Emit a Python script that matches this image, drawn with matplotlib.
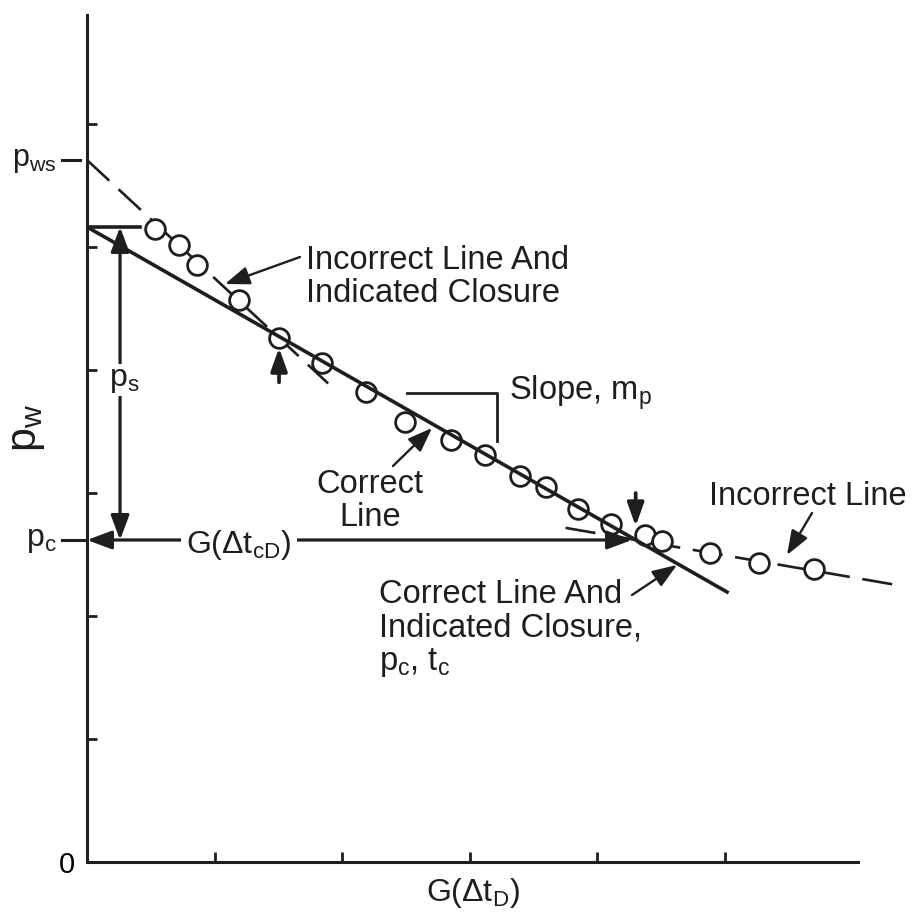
import matplotlib
matplotlib.use("Agg")
import matplotlib.pyplot as plt
import numpy as np

plt.rcParams['font.family'] = ['Liberation Sans', 'DejaVu Sans']
plt.rcParams['mathtext.fontset'] = 'custom'
plt.rcParams['mathtext.rm'] = 'Liberation Sans'
plt.rcParams['mathtext.it'] = 'Liberation Sans'
plt.rcParams['mathtext.default'] = 'regular'

INK = '#1e1e1e'

# ---- data (G(Δt_D) units, p_w units) ----
g_points = [0.53, 0.72, 0.86, 1.19, 1.505, 1.84, 2.19, 2.49, 2.85, 3.12,
            3.39, 3.60, 3.85, 4.11, 4.37, 4.51, 4.88, 5.27, 5.70]
p_points = [5.15, 5.02, 4.85, 4.57, 4.26, 4.06, 3.82, 3.58, 3.43, 3.31,
            3.14, 3.05, 2.87, 2.75, 2.66, 2.61, 2.51, 2.43, 2.38]

p_s_top = 5.163          # intercept of correct line
correct_slope = -0.5917
correct_x = [0.0, 5.016]

p_ws = 5.707             # intercept of early incorrect line
early_slope = -0.961
early_x = [0.0, 1.89]

p_c = 2.618
g_c = (p_s_top - p_c) / -correct_slope
late_slope = -0.179
late_x = [6.31, 3.75]    # drawn from right end so the dash pattern starts there

x_ticks = [1, 2, 3, 4, 5]
y_ticks = [0, 1, 2, 3, 4, 5, 6]
y_ticklabels = ['0', '', '', '', '', '', '']

fig = plt.figure(figsize=(9.13, 9.21), dpi=100)
ax = fig.add_axes([87/913, 59/921, 771/913, 847/921])
ax.set_xlim(0, 771/127.6)
ax.set_ylim(0, 847/123)

def X(px):
    return (px - 87) / 127.6

def Y(py):
    return (862 - py) / 123

for s in ['top', 'right']:
    ax.spines[s].set_visible(False)
for s in ['left', 'bottom']:
    ax.spines[s].set_linewidth(2.2)
    ax.spines[s].set_color(INK)

ax.set_xticks(x_ticks)
ax.set_xticklabels([])
ax.set_yticks(y_ticks)
ax.set_yticklabels(y_ticklabels, fontsize=21)
ax.tick_params(axis='both', direction='in', length=7, width=2, color=INK)
ax.tick_params(axis='y', pad=9)

dash = (0, (11.5, 4.8))
# incorrect lines (dashed)
xe = np.array(early_x)
ax.plot(xe, p_ws + early_slope * xe, color=INK, lw=1.9, linestyle=dash, zorder=1)
xl = np.array(late_x)
ax.plot(xl, p_c + late_slope * (xl - g_c), color=INK, lw=1.9, linestyle=dash,
        zorder=1, clip_on=False)

# data points
ax.plot(g_points, p_points, 'o', ms=14.2, mfc='white', mec=INK, mew=2.0, zorder=2)

# correct line
xc = np.array(correct_x)
ax.plot(xc, p_s_top + correct_slope * xc, color=INK, lw=2.6, zorder=3)

# top horizontal line for p_s
ax.plot([0, 0.415], [p_s_top, p_s_top], color=INK, lw=2.6, zorder=3)

def arrow(tail, head, style='-|>', lw=1.7, hl=0.75, hw=0.28, ms=20):
    ax.annotate('', xy=head, xytext=tail,
                arrowprops=dict(arrowstyle=f'{style},head_length={hl},head_width={hw}',
                                lw=lw, color=INK, shrinkA=0, shrinkB=0,
                                mutation_scale=ms),
                zorder=4)

# p_s vertical double arrow
arrow((0.259, p_c), (0.259, p_s_top), style='<|-|>', lw=2.3)
ax.text(0.295, Y(386), '$p_s$', fontsize=23, ha='center', va='baseline',
        color=INK, zorder=5, bbox=dict(fc='white', ec='none', pad=1))

# G(Δt_cD) horizontal double arrow
arrow((0.0, p_c), (g_c - 0.03, p_c), style='<|-|>', lw=2.3)
ax.text(X(239), Y(553), r'G($\Delta$t$_{cD}$)', fontsize=23, ha='center',
        va='baseline', color=INK, zorder=5, bbox=dict(fc='white', ec='none', pad=4))

# small pointer arrows
arrow((1.505, 3.90), (1.505, 4.18), lw=2.7, hl=0.7, hw=0.25)
arrow((4.30, 3.00), (4.30, 2.73), lw=2.7, hl=0.7, hw=0.25)

# annotation arrows
arrow((X(300), Y(257)), (X(225), Y(284)))
arrow((X(393), Y(466)), (X(432), Y(428)))
arrow((X(632), Y(595)), (X(677), Y(565)))
arrow((X(812), Y(513)), (X(787), Y(555)))

# slope bracket
ax.plot([X(407), X(497), X(497)], [Y(393), Y(393), Y(441)], color=INK, lw=2.0, zorder=3)

# annotation texts (y = baseline of the last line)
tkw = dict(fontsize=23.5, color=INK, va='baseline', linespacing=1.1)
ax.text(X(306), Y(302), 'Incorrect Line And\nIndicated Closure', ha='left', **tkw)
ax.text(X(509), Y(400), 'Slope, $m_p$', ha='left', **tkw)
ax.text(X(370), Y(526), 'Correct\nLine', ha='center', multialignment='center', **tkw)
ax.text(X(379), Y(670), 'Correct Line And\nIndicated Closure,\n$p_c$, $t_c$',
        ha='left', **tkw)
ax.text(X(709), Y(505), 'Incorrect Line', ha='left', **tkw)

# left-side labels for p_ws and p_c
ax.plot([X(62), X(80)], [p_ws, p_ws], color=INK, lw=2.2, clip_on=False)
ax.plot([X(62), 0.0], [p_c, p_c], color=INK, lw=2.2, clip_on=False)
ax.text(X(57), p_ws, '$p_{ws}$', fontsize=22, ha='right', va='center', color=INK)
ax.text(X(57), p_c, '$p_c$', fontsize=23, ha='right', va='center', color=INK)

# axis labels
ax.text(X(27), Y(428), '$p_w$', fontsize=31, rotation=90, ha='center', va='center',
        color=INK)
ax.text(X(473), Y(893), r'G($\Delta$t$_D$)', fontsize=23, ha='center', va='center',
        color=INK)

fig.savefig('out.png', dpi=100)
